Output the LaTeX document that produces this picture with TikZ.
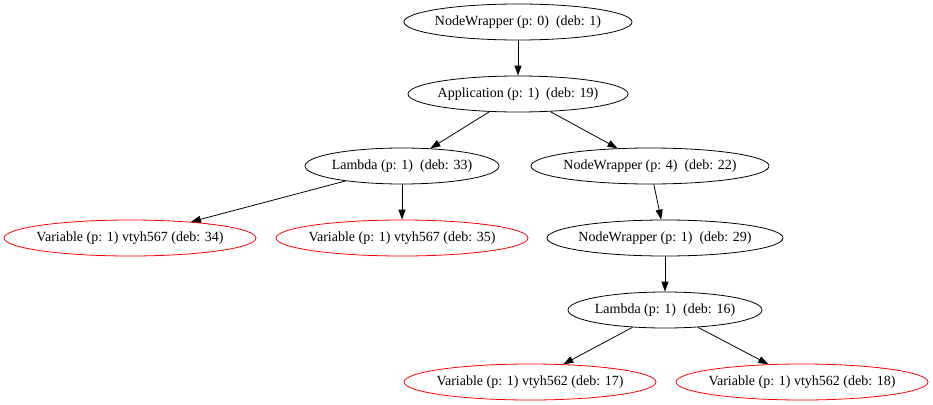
\documentclass[tikz,border=0pt]{standalone}
\usepackage{xcolor}
\usepackage{fontspec}
\setmainfont{Liberation Serif}
\usetikzlibrary{shapes.geometric,arrows.meta}
\newcommand{\lab}[1]{\makebox[0pt]{\raisebox{-1.5pt}{#1}}}
\tikzset{
    tnode/.style={draw, ellipse, line width=0.8pt, inner sep=0pt, minimum height=36pt, font=\fontsize{14}{16}\selectfont},
    varnode/.style={tnode, draw=red},
    edge/.style={-{Triangle[length=10pt,width=7pt]}, line width=0.8pt}
}
\begin{document}
\begin{tikzpicture}[x=1pt,y=-1pt]
    \useasboundingbox (0,0) rectangle (933,404);
    \node[tnode, minimum width=228pt] (wrap0) at (518,22) {\lab{NodeWrapper (p: 0)\ \ (deb: 1)}};
    \node[tnode, minimum width=220pt] (app19) at (518,94) {\lab{Application (p: 1)\ \ (deb: 19)}};
    \node[tnode, minimum width=194pt] (lam33) at (402,166) {\lab{Lambda (p: 1)\ \ (deb: 33)}};
    \node[tnode, minimum width=238pt] (wrap22) at (650,166) {\lab{NodeWrapper (p: 4)\ \ (deb: 22)}};
    \node[varnode, minimum width=252pt] (var34) at (130,238) {\lab{Variable (p: 1) vtyh567 (deb: 34)}};
    \node[varnode, minimum width=252pt] (var35) at (402,238) {\lab{Variable (p: 1) vtyh567 (deb: 35)}};
    \node[tnode, minimum width=236pt] (wrap29) at (665,238) {\lab{NodeWrapper (p: 1)\ \ (deb: 29)}};
    \node[tnode, minimum width=194pt] (lam16) at (665,310) {\lab{Lambda (p: 1)\ \ (deb: 16)}};
    \node[varnode, minimum width=252pt] (var17) at (530,382) {\lab{Variable (p: 1) vtyh562 (deb: 17)}};
    \node[varnode, minimum width=252pt] (var18) at (802,382) {\lab{Variable (p: 1) vtyh562 (deb: 18)}};
    \draw[edge] (wrap0) -- (app19);
    \draw[edge] (app19) -- (lam33);
    \draw[edge] (app19) -- (wrap22);
    \draw[edge] (lam33) -- (var34);
    \draw[edge] (lam33) -- (var35);
    \draw[edge] (wrap22) -- (wrap29);
    \draw[edge] (wrap29) -- (lam16);
    \draw[edge] (lam16) -- (var17);
    \draw[edge] (lam16) -- (var18);
\end{tikzpicture}
\end{document}
